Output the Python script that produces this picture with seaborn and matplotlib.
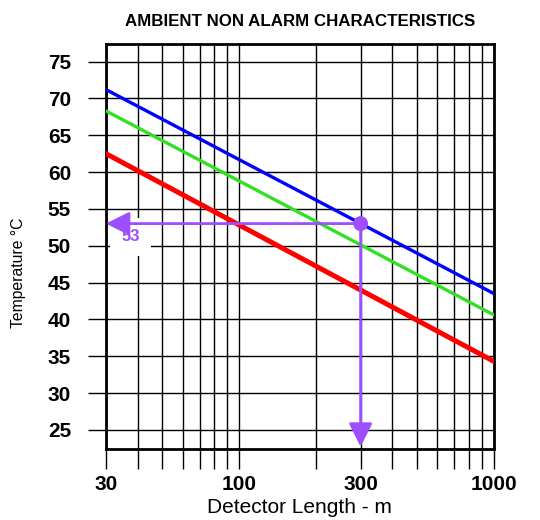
import numpy as np
import pandas as pd
import matplotlib
matplotlib.use("Agg")
import matplotlib.pyplot as plt
from matplotlib.ticker import FixedLocator, NullLocator
import seaborn as sns

# detector length (m) at both ends of each characteristic
lengths = [30, 1000]
blue_temp = [71.2, 43.5]
green_temp = [68.3, 40.6]
red_temp = [62.5, 34.3]

# worked example
example_length = 300
example_temp = 53

grid_x = [30, 40, 50, 60, 70, 80, 90, 100, 200, 300, 400, 500, 600, 700, 800, 900, 1000]
labelled_x = [30, 100, 300, 1000]
y_ticks = [25, 30, 35, 40, 45, 50, 55, 60, 65, 70, 75]

sns.set_theme(style="white")
plt.rcParams['font.family'] = ['Liberation Sans', 'DejaVu Sans']
plt.rcParams.update({"text.color": "black", "axes.labelcolor": "black",
                     "xtick.color": "black", "ytick.color": "black"})

df = pd.DataFrame({
    "length": lengths * 3,
    "temp": blue_temp + green_temp + red_temp,
    "curve": ["blue"] * 2 + ["green"] * 2 + ["red"] * 2,
})

fig = plt.figure(figsize=(5.4, 5.2), dpi=100)
ax = fig.add_axes([0.196, 0.1365, 0.7185, 0.7785])
ax.set_xscale("log")

purple = "#9D4EFF"
palette = {"blue": "#0000FF", "green": "#33E021", "red": "#FF0000"}
sizes = {"blue": 2.4, "green": 2.4, "red": 3.6}
for name, grp in df.groupby("curve", sort=False):
    sns.lineplot(data=grp, x="length", y="temp", color=palette[name],
                 linewidth=sizes[name], ax=ax, zorder=3)

ax.set_xlim(30, 1000)
ax.set_ylim(22.4, 77.35)

ax.xaxis.set_major_locator(FixedLocator(grid_x))
ax.xaxis.set_minor_locator(NullLocator())
ax.set_xticklabels([str(v) if v in labelled_x else "" for v in grid_x])
ax.set_yticks(y_ticks)
ax.set_yticklabels([str(v) for v in y_ticks])
ax.grid(True, color="black", linewidth=1.0)
ax.tick_params(axis="x", bottom=True, direction="out", length=14.5, width=1.0,
               color="black", labelcolor="black", pad=4, labelsize=15)
ax.tick_params(axis="y", left=True, direction="out", length=13, width=1.0,
               color="black", labelcolor="black", pad=12, labelsize=15)
for lab in ax.get_xticklabels() + ax.get_yticklabels():
    lab.set_fontweight("bold")

for sp in ax.spines.values():
    sp.set_color("black")
    sp.set_linewidth(2.0)

# worked example: arrows from the blue curve to both axes
head = "-|>,head_length=1.2,head_width=0.6"
ax.annotate("", xy=(30, example_temp), xytext=(example_length, example_temp),
            arrowprops=dict(arrowstyle=head, color=purple, lw=2,
                            shrinkA=0, shrinkB=0), zorder=5)
ax.annotate("", xy=(example_length, 22.7), xytext=(example_length, example_temp),
            arrowprops=dict(arrowstyle=head, color=purple, lw=2,
                            shrinkA=0, shrinkB=0), zorder=5)
ax.scatter([example_length], [example_temp], s=115, color=purple, zorder=6,
           edgecolor="none")
ax.text(37.6, 51.2, str(example_temp), color=purple, fontsize=12,
        fontweight="bold", ha="center", va="center", zorder=4,
        bbox=dict(facecolor="white", edgecolor="none", pad=8))

ax.set_xlabel("Detector Length - m", fontsize=15, labelpad=3)
ax.set_ylabel("Temperature °C", fontsize=11.3)
ax.yaxis.set_label_coords(-0.205, 0.435)
ax.set_title("AMBIENT NON ALARM CHARACTERISTICS", fontsize=12.2,
             fontweight="bold", pad=13)

fig.savefig("out.png", dpi=100)
